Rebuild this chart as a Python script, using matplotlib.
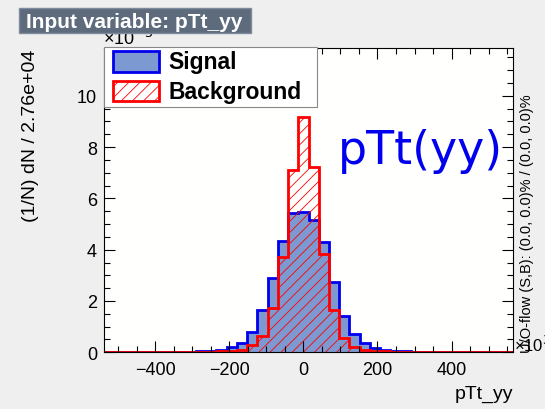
import matplotlib
matplotlib.use("Agg")
import matplotlib.pyplot as plt
from matplotlib.patches import Rectangle
import numpy as np

plt.rcParams['font.family'] = ['Liberation Sans', 'DejaVu Sans']
plt.rcParams['hatch.linewidth'] = 0.6

W, H = 545, 410

# 40 bins of 27.6 (x10^3), values in units of 1e-3
nbins = 40
xlow = -538.2
binw = 27.6
first_bin = 9   # index of first entry in the lists below

signal = [0.05, 0.07, 0.10, 0.19, 0.37, 0.78, 1.65, 2.90, 4.35, 5.42, 5.46,
          5.16, 4.31, 2.75, 1.40, 0.72, 0.38, 0.18, 0.10, 0.07, 0.05]
background = [0.01, 0.02, 0.04, 0.07, 0.10, 0.27, 0.62, 1.72, 3.73, 7.10, 9.16,
              7.24, 3.83, 1.66, 0.57, 0.20, 0.10, 0.07, 0.04, 0.02, 0.01]

xticks = [-400, -200, 0, 200, 400]
yticks = [0, 2, 4, 6, 8, 10]

edges = xlow + binw * np.arange(nbins + 1)
sig = np.zeros(nbins)
bkg = np.zeros(nbins)
sig[first_bin:first_bin + len(signal)] = signal
bkg[first_bin:first_bin + len(background)] = background

def fx(x):
    return x / W

def fy(y):
    return 1 - y / H

fig = plt.figure(figsize=(W / 100, H / 100), dpi=100, facecolor='#efefef')
ax = fig.add_axes([fx(104), fy(353.3), fx(513) - fx(104), fy(49.3) - fy(353.3)])
ax.set_facecolor('#fffffd')

ax.stairs(sig, edges, fill=True, facecolor='#7d99d1', linewidth=0)
ax.stairs(sig, edges, color='#0000ee', linewidth=2)
ax.stairs(bkg, edges, fill=True, facecolor='none', edgecolor='#ff0000',
          hatch='///', linewidth=0)
ax.stairs(bkg, edges, color='#ff0000', linewidth=2)

ax.set_xlim(edges[0], edges[-1])
ax.set_ylim(0, 11.85)
ax.set_xticks(xticks)
ax.set_yticks(yticks)
ax.set_xticks(np.arange(-500, 551, 50), minor=True)
ax.set_yticks(np.arange(0, 11.85, 0.5), minor=True)
ax.tick_params(which='both', direction='in', top=True, right=True,
               labelsize=13, width=0.8, color='black')
ax.tick_params(which='major', length=8, pad=6)
ax.tick_params(which='minor', length=4)
ax.tick_params(axis='y', pad=5)
for s in ax.spines.values():
    s.set_linewidth(0.8)

ax.set_xlabel('pTt_yy', fontsize=14, loc='right', labelpad=5)
ax.set_ylabel('(1/N) dN / 2.76e+04', fontsize=14, loc='top', labelpad=27)

# axis multipliers
fig.text(fx(103), fy(45), '\u00d710$^{-3}$', fontsize=13, va='baseline', zorder=1)
fig.text(fx(514), fy(352), '\u00d710$^{3}$', fontsize=12, va='baseline')

# under/overflow info
fig.text(fx(527), fy(353), 'U/O-flow (S,B): (0.0, 0.0)% / (0.0, 0.0)%',
         fontsize=10.5, rotation=90, ha='center', va='bottom')

# big variable name
ax.text(fx(420), fy(152), 'pTt(yy)', transform=fig.transFigure,
        fontsize=33, color='#0000ee', ha='center', va='center',
        family='DejaVu Sans')

# title box
fig.patches.append(Rectangle((fx(19), fy(34)), fx(251) - fx(19), fy(9) - fy(34),
                             transform=fig.transFigure, facecolor='#5d6b7d',
                             edgecolor='#7d8b9d', zorder=5))
fig.text(fx(26), fy(22), 'Input variable: pTt_yy', fontsize=15, color='white',
         fontweight='bold', va='center', ha='left', zorder=6)

# legend
fig.patches.append(Rectangle((fx(104), fy(108)), fx(317) - fx(104), fy(48) - fy(108),
                             transform=fig.transFigure, facecolor='white',
                             edgecolor='#888888', linewidth=0.8, zorder=5))
fig.patches.append(Rectangle((fx(113), fy(73)), fx(159) - fx(113), fy(52) - fy(73),
                             transform=fig.transFigure, facecolor='#7d99d1',
                             edgecolor='#0000ee', linewidth=2, zorder=6))
fig.patches.append(Rectangle((fx(113), fy(102)), fx(159) - fx(113), fy(82) - fy(102),
                             transform=fig.transFigure, facecolor='none', hatch='///',
                             edgecolor='#ff0000', linewidth=2, zorder=6))
fig.text(fx(168), fy(62.5), 'Signal', fontsize=16.5, fontweight='bold',
         va='center', ha='left', zorder=7)
fig.text(fx(168), fy(92), 'Background', fontsize=16.5, fontweight='bold',
         va='center', ha='left', zorder=7)

fig.savefig('out.png', dpi=100, facecolor=fig.get_facecolor())
